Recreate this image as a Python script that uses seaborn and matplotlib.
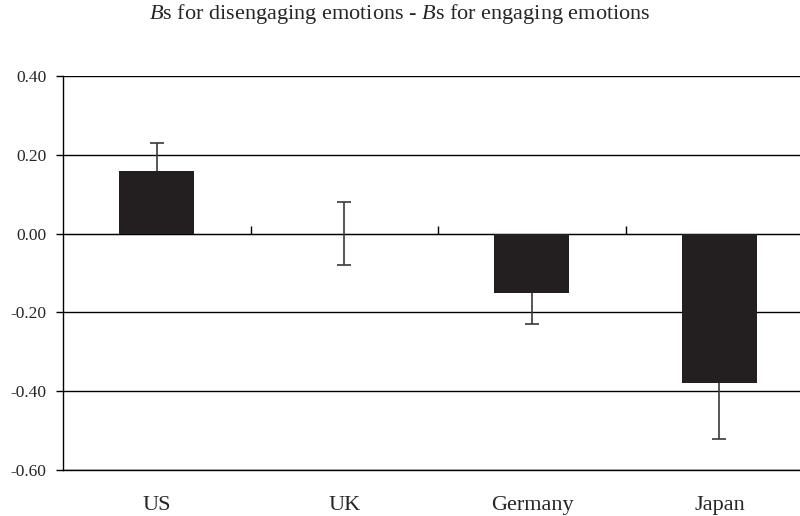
import numpy as np
import matplotlib as mpl
from matplotlib import pyplot as plt
import seaborn as sns

countries = ['US', 'UK', 'Germany', 'Japan']
diff_b = [0.16, 0.00, -0.15, -0.38]
err = [0.07, 0.08, 0.08, 0.14]
y_ticks = [-0.6, -0.4, -0.2, 0.0, 0.2, 0.4]

sns.set_style('white')
plt.rcParams['font.family'] = ['Liberation Serif', 'DejaVu Serif']
mpl.rcParams['mathtext.fontset'] = 'custom'
mpl.rcParams['mathtext.rm'] = 'Liberation Serif'
mpl.rcParams['mathtext.it'] = 'Liberation Serif:italic'

fig = plt.figure(figsize=(8, 5.16), dpi=100)
ax = fig.add_axes([0.079, 0.0891, 0.9375, 0.7636])

bar_color = '#231f20'
pos = np.arange(len(countries))
ax.errorbar(pos, diff_b, yerr=err, fmt='none', ecolor='#3a3a3a',
            elinewidth=1.2, capsize=5, capthick=1.2, zorder=1)
sns.barplot(x=countries, y=diff_b, color=bar_color, width=0.4,
            errorbar=None, saturation=1, linewidth=0, ax=ax, zorder=2)

ax.set_ylim(-0.6, 0.4)
ax.set_xlim(-0.5, len(countries) - 0.5)
ax.set_yticks(y_ticks)
ax.set_yticklabels(['{:.2f}'.format(v) for v in y_ticks], fontsize=12.5)
ax.yaxis.grid(True, color='black', linewidth=1)
ax.set_axisbelow(True)
ax.tick_params(axis='y', left=True, length=5, width=1, color='black', pad=7)
ax.tick_params(axis='x', bottom=False, labelsize=16, pad=15)
ax.set(xlabel='', ylabel='')
for s in ['top', 'right']:
    ax.spines[s].set_visible(False)
for s in ['left', 'bottom']:
    ax.spines[s].set_color('black')
    ax.spines[s].set_linewidth(1)

# zero line with category divider ticks pointing up
sec = ax.secondary_xaxis(0.6)
sec.set_xticks(pos[:-1] + 0.5)
sec.set_xticklabels([])
sec.tick_params(direction='out', length=6, width=1, color='black')
sec.spines['bottom'].set_color('black')
sec.spines['bottom'].set_linewidth(1)

fig.text(0.5, 0.972, '$\\it{B}$s for disengaging emotions - $\\it{B}$s for engaging emotions',
         ha='center', va='center', fontsize=16)

fig.savefig('out.png', dpi=100)
